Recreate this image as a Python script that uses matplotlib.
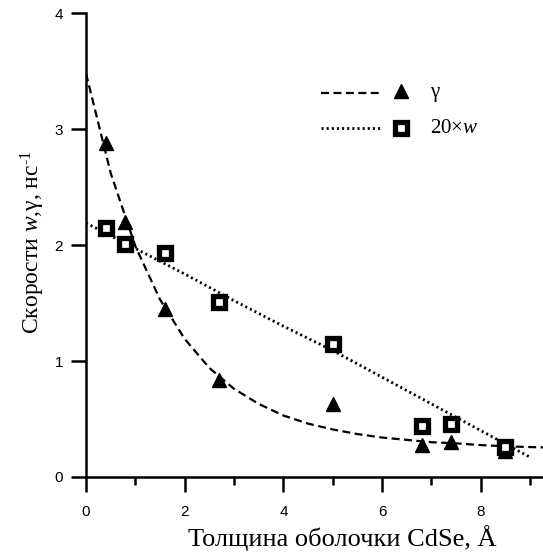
import matplotlib
matplotlib.use('Agg')
import matplotlib.pyplot as plt
from matplotlib.lines import Line2D

plt.rcParams['mathtext.fontset'] = 'custom'
plt.rcParams['mathtext.rm'] = 'Liberation Serif'
plt.rcParams['mathtext.it'] = 'Liberation Serif:italic'

# CdSe shell thickness (A) and measured rates
shell = [0.4, 0.8, 1.6, 2.7, 5.0, 6.8, 7.4, 8.5]
gamma = [2.88, 2.20, 1.45, 0.84, 0.63, 0.28, 0.30, 0.22]
w20 = [2.15, 2.01, 1.93, 1.51, 1.15, 0.44, 0.46, 0.26]

# fit curves
gfit_x = [0, 0.5, 1, 1.5, 2, 2.5, 3, 3.5, 4, 4.5, 5, 5.5, 6, 6.5, 7, 7.5, 8, 8.5, 9, 9.3]
gfit_y = [3.48, 2.62, 1.99, 1.53, 1.19, 0.94, 0.76, 0.63, 0.53, 0.46, 0.41, 0.37, 0.34,
          0.32, 0.30, 0.29, 0.275, 0.265, 0.258, 0.255]
wfit_x = [0, 1, 2, 3, 4, 5, 6, 7, 8, 9]
wfit_y = [2.19, 1.97, 1.75, 1.52, 1.30, 1.09, 0.86, 0.63, 0.40, 0.17]

fig = plt.figure(figsize=(5.43, 5.54), dpi=100)
ax = fig.add_axes([0.1584, 0.139, 0.8416, 0.8375])  # left, bottom, width, height

ax.plot(gfit_x, gfit_y, c='black', lw=1.6, linestyle=(0, (3.6, 2.0)), zorder=2)
ax.plot(wfit_x, wfit_y, c='black', lw=2.0, linestyle=(0, (0.75, 1.1)), zorder=2)
ax.plot(shell, gamma, '^', c='black', ms=10, zorder=3)
ax.plot(shell, w20, 's', mfc='white', mec='black', ms=8.0, mew=3.8, zorder=4)

ax.set_xlim(0, 9.26)
ax.set_ylim(0, 4)
ax.set_xticks([0, 2, 4, 6, 8])
ax.set_xticks([1, 3, 5, 7, 9], minor=True)
ax.set_yticks([0, 1, 2, 3, 4])
for s in ['top', 'right']:
    ax.spines[s].set_visible(False)
for s in ['left', 'bottom']:
    ax.spines[s].set_linewidth(1.8)
ax.tick_params(which='major', direction='out', length=10.5, width=1.8, labelsize=11, pad=6)
ax.tick_params(axis='x', which='major', pad=10)
ax.tick_params(which='minor', direction='out', length=5.5, width=1.8)
for lab in ax.get_xticklabels() + ax.get_yticklabels():
    lab.set_family('Liberation Sans')

ax.set_xlabel('Толщина оболочки CdSe, Å', family='Liberation Serif', fontsize=19)
ax.xaxis.set_label_coords(0.56, -0.103)
ax.set_ylabel('Скорости $\\mathit{w}$,γ, нс$^{\\text{-}1}$', family='Liberation Serif',
              fontsize=17)
ax.yaxis.set_label_coords(-0.085, 0.506)

# legend drawn by hand: line, then marker, then label
tr = ax.transAxes
ax.add_line(Line2D([0.514, 0.648], [0.828, 0.828], transform=tr, c='black', lw=1.6,
                   linestyle=(0, (3.6, 2.0))))
ax.add_line(Line2D([0.689], [0.832], transform=tr, marker='^', c='black', ms=10, ls='none'))
ax.text(0.753, 0.828, 'γ', transform=tr, family='Liberation Serif', fontsize=15, va='center')
ax.add_line(Line2D([0.514, 0.648], [0.752, 0.752], transform=tr, c='black', lw=2.0,
                   linestyle=(0, (0.75, 1.1))))
ax.add_line(Line2D([0.689], [0.752], transform=tr, marker='s', mfc='white', mec='black',
                   ms=8.0, mew=3.8, ls='none'))
ax.text(0.753, 0.752, '20×$\\mathit{w}$', transform=tr, family='Liberation Serif', fontsize=15,
        va='center')

plt.savefig('out.png', dpi=100)
